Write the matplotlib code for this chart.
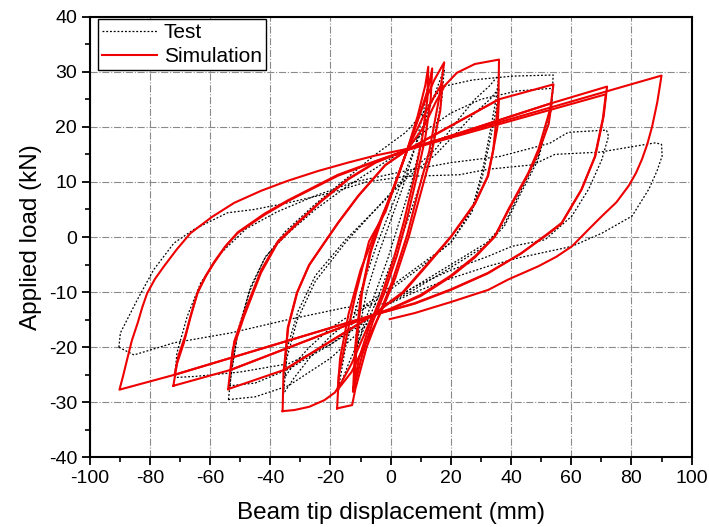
import matplotlib
matplotlib.use('Agg')
import matplotlib.pyplot as plt
from matplotlib.ticker import MultipleLocator

# ---- Simulation loops (beam tip displacement mm, applied load kN) ----
sim12a_x = [-12.5, -11.8, -10.0, -7.0, -3.0, 1.0, 5.5, 9.0, 11.5, 12.5, 12.2, 10.5, 7.5, 4.5, 1.0, -3.0, -7.0, -10.5, -12.5]
sim12a_y = [-28.0, -20.0, -11.0, -3.0, 3.5, 9.0, 15.8, 22.0, 27.5, 30.9, 25.0, 18.0, 10.0, 3.0, -4.0, -10.5, -16.0, -22.0, -28.0]
sim12b_x = [-12.0, -11.3, -9.5, -6.5, -2.5, 1.5, 5.5, 9.5, 12.5, 13.8, 13.3, 11.5, 8.5, 5.5, 2.0, -2.0, -6.0, -9.5, -12.0]
sim12b_y = [-27.0, -19.0, -10.0, -2.5, 4.0, 9.5, 15.8, 22.0, 27.0, 30.6, 25.0, 18.0, 10.5, 3.5, -3.5, -10.0, -15.5, -21.5, -27.0]
sim18a_x = [-17.8, -17.2, -15.0, -11.7, -7.2, -1.7, 1.7, 5.5, 10.5, 14.5, 17.8, 16.1, 12.8, 9.4, 5.5, 0.5, -3.9, -8.0, -11.7, -12.8, -17.8]
sim18a_y = [-31.1, -25.0, -19.0, -10.5, -0.8, 4.6, 10.0, 15.8, 23.5, 28.5, 31.7, 25.2, 15.5, 8.8, 0.4, -8.1, -14.2, -20.0, -27.5, -30.5, -31.1]
sim18b_x = [-17.6, -16.8, -14.0, -10.0, -5.0, 0.0, 5.5, 10.5, 14.5, 17.2, 16.5, 13.5, 10.0, 6.0, 1.5, -3.5, -8.5, -13.0, -17.6]
sim18b_y = [-27.7, -22.0, -14.0, -6.0, 1.0, 7.5, 15.8, 21.5, 25.5, 28.0, 23.0, 15.0, 8.0, 0.0, -7.5, -14.0, -19.5, -24.5, -27.7]
sim36a_x = [-35.9, -35.6, -34.0, -31.0, -27.0, -21.7, -17.2, -10.6, -1.7, 5.5, 11.0, 15.0, 18.0, 22.0, 28.0, 36.0,
            35.8, 34.1, 32.4, 28.0, 20.2, 12.0, 4.0, -6.0, -9.0, -13.0, -16.5, -18.5, -22.0, -27.0, -32.0, -35.9]
sim36a_y = [-31.6, -24.5, -16.3, -10.0, -5.0, -0.8, 2.8, 7.6, 13.1, 15.8, 20.0, 24.5, 27.5, 29.8, 31.4, 32.2,
            25.0, 15.9, 11.1, 6.2, 0.2, -5.0, -10.0, -14.2, -18.0, -23.0, -26.5, -28.2, -29.6, -30.8, -31.4, -31.6]
sim36b_x = [-35.3, -34.2, -31.2, -27.2, -22.0, -17.4, -10.8, -1.9, 5.5, 36.0, 35.5, 34.0, 32.2, 28.0, 20.0, 12.0, 4.0, -6.0, -35.3]
sim36b_y = [-24.1, -16.5, -10.2, -5.2, -1.0, 2.6, 7.4, 13.0, 15.8, 25.0, 20.0, 15.5, 11.0, 6.0, 0.0, -5.2, -10.2, -14.2, -24.1]
sim54a_x = [-54.0, -52.5, -48.7, -43.1, -37.6, -30.9, -23.0, -14.0, -5.0, 5.5, 36.0, 54.1,
            53.0, 49.1, 45.8, 39.1, 34.7, 28.0, 20.0, 10.0, 0.0, -6.0, -35.3, -54.0]
sim54a_y = [-27.6, -20.5, -14.4, -6.5, -1.1, 2.5, 6.5, 10.5, 13.5, 15.8, 25.0, 27.7,
            23.2, 15.9, 11.7, 5.0, 0.2, -3.5, -7.0, -10.5, -13.0, -14.2, -24.1, -27.6]
sim54b_x = [-53.1, -52.0, -48.5, -43.0, -37.5, -31.0, -23.0, -14.0, -5.0, 5.5, 53.5,
            52.5, 49.0, 45.5, 39.0, 34.5, 28.0, 20.0, 10.0, 0.0, -6.0, -53.1]
sim54b_y = [-24.1, -19.0, -13.5, -6.0, -0.8, 2.6, 6.6, 10.6, 13.6, 15.8, 24.3,
            20.5, 15.2, 11.2, 4.7, 0.0, -3.7, -7.2, -10.7, -13.1, -14.2, -24.1]
sim72a_x = [-72.2, -71.0, -68.7, -66.5, -64.2, -61.5, -58.7, -55.0, -50.9, -42.0, -34.2, -17.6, -6.0, 5.5, 53.5, 71.9,
            70.8, 68.0, 63.5, 56.9, 52.4, 43.5, 32.4, 20.0, 8.0, -6.0, -53.1, -72.2]
sim72a_y = [-27.0, -23.0, -19.2, -14.5, -10.2, -7.2, -4.7, -1.8, 0.7, 4.0, 6.5, 11.1, 13.5, 15.8, 24.3, 27.3,
            22.0, 14.7, 8.7, 2.6, 0.7, -2.9, -6.5, -9.5, -12.0, -14.2, -24.1, -27.0]
sim72b_x = [-71.8, -70.5, -68.3, -66.2, -64.0, -61.3, -58.5, -54.8, -50.7, -42.0, -34.0, -17.5, -6.0, 5.5, 71.5,
            70.5, 67.8, 63.3, 56.7, 52.2, 43.3, 32.3, 20.0, 8.0, -6.0, -71.8]
sim72b_y = [-25.0, -21.5, -18.0, -13.8, -9.8, -6.9, -4.4, -1.6, 0.9, 4.2, 6.7, 11.3, 13.6, 15.8, 25.9,
            21.5, 14.5, 8.5, 2.4, 0.5, -3.0, -6.6, -9.6, -12.1, -14.2, -25.0]
sim90_x = [-6.0, -71.8, -90.1, -88.8, -87.6, -86.0, -84.0, -82.5, -80.9, -78.3, -75.3, -71.0, -66.5, -59.5, -52.0,
           -43.0, -34.2, -24.0, -14.2, -5.0, 4.7, 90.0,
           88.6, 86.9, 85.3, 83.5, 81.5, 79.1, 75.0, 70.2, 65.8, 60.2, 55.0, 49.1, 39.1, 32.4, 20.0, 8.0, -0.3]
sim90_y = [-14.2, -25.0, -27.7, -25.0, -22.3, -18.8, -15.5, -12.7, -10.2, -7.6, -5.3, -2.2, 0.7, 3.6, 6.2,
           8.4, 10.2, 12.0, 13.5, 14.8, 15.9, 29.3,
           24.5, 20.1, 16.9, 14.1, 11.6, 9.3, 6.3, 3.8, 1.4, -1.7, -3.6, -5.3, -7.7, -9.6, -11.8, -13.8, -14.9]

# ---- Test loops ----
test12_x = [-12.0, -10.5, -8.0, -4.0, 0.0, 4.0, 8.0, 11.0, 12.5, 12.0, 10.0, 7.0, 3.0, -1.0, -5.0, -9.0, -11.5, -12.0]
test12_y = [-24.0, -17.0, -10.0, -3.0, 3.0, 9.0, 16.0, 23.0, 28.0, 24.0, 17.0, 10.0, 3.0, -4.0, -10.0, -16.0, -21.0, -24.0]
test18_x = [-17.5, -15.0, -10.0, -5.0, 0.0, 5.0, 10.0, 14.0, 17.8, 17.0, 14.0, 10.0, 5.0, 0.0, -5.0, -10.0, -14.0, -17.5]
test18_y = [-28.0, -20.0, -10.0, -2.0, 5.0, 12.0, 19.0, 25.0, 30.5, 25.0, 17.0, 10.0, 2.0, -5.0, -12.0, -18.0, -23.0, -28.0]
test36a_x = [-35.6, -34.5, -31.0, -25.0, -15.0, -5.0, 5.0, 15.0, 22.0, 28.0, 33.0, 36.0,
             35.0, 33.0, 30.5, 27.0, 20.0, 10.0, 0.0, -10.0, -20.0, -27.0, -32.0, -35.6]
test36a_y = [-28.4, -22.0, -15.0, -8.0, -1.0, 5.0, 11.0, 16.0, 21.0, 25.0, 27.5, 29.5,
             25.0, 19.0, 12.0, 5.0, -1.0, -5.5, -9.5, -13.5, -18.0, -22.0, -25.5, -28.4]
test36b_x = [-35.3, -34.3, -30.8, -25.0, -15.0, -5.0, 5.0, 15.0, 22.0, 28.0, 33.0, 36.0,
             35.0, 33.0, 30.5, 27.0, 20.0, 10.0, 0.0, -10.0, -20.0, -27.0, -32.0, -35.3]
test36b_y = [-25.5, -20.0, -13.5, -7.0, -0.5, 5.0, 10.5, 15.0, 19.0, 22.5, 25.0, 27.0,
             23.0, 17.5, 11.0, 4.5, -1.0, -5.0, -9.0, -13.0, -16.5, -20.0, -23.0, -25.5]
test54a_x = [-53.9, -53.0, -51.0, -47.0, -42.0, -35.0, -25.0, -15.0, -5.0, 5.0, 10.0, 17.2, 27.2, 40.5, 54.0,
             53.5, 49.1, 43.5, 38.0, 32.0, 20.0, 8.0, -2.0, -10.0, -20.0, -34.0, -45.0, -53.9]
test54a_y = [-29.5, -25.0, -18.0, -10.0, -4.0, 1.0, 6.0, 10.5, 15.0, 19.0, 22.0, 27.3, 28.5, 29.2, 29.4,
             24.4, 14.7, 8.7, 2.6, -1.0, -5.0, -9.0, -12.5, -17.0, -22.0, -27.0, -29.0, -29.5]
test54b_x = [-53.5, -52.5, -50.5, -46.5, -41.5, -34.5, -25.0, -15.0, -5.0, 5.0, 12.0, 20.0, 30.0, 42.0, 54.0,
             53.3, 49.0, 43.3, 37.8, 31.8, 20.0, 8.0, -2.0, -10.0, -20.0, -34.0, -45.0, -53.5]
test54b_y = [-27.0, -23.0, -16.5, -9.0, -3.5, 0.5, 5.0, 9.0, 12.5, 16.0, 19.5, 22.5, 25.0, 26.5, 27.0,
             23.0, 14.0, 8.0, 2.0, -1.5, -5.5, -9.5, -12.5, -15.5, -19.5, -24.0, -26.5, -27.0]
test72_x = [-71.8, -71.0, -67.6, -63.1, -56.4, -48.0, -38.0, -25.0, -12.0, 5.0, 20.0, 36.1, 52.8, 59.0, 71.7,
            72.4, 70.2, 65.8, 60.2, 51.3, 40.2, 32.4, 20.0, 8.0, 0.0, -10.0, -20.0, -34.0, -50.0, -65.0, -71.8]
test72_y = [-25.5, -21.0, -14.4, -8.3, -2.9, 1.5, 4.5, 7.5, 10.0, 12.0, 13.5, 14.6, 17.0, 19.0, 19.4,
            18.3, 14.1, 8.7, 3.8, -0.5, -1.7, -3.5, -6.0, -9.0, -11.5, -16.0, -19.5, -23.0, -24.5, -25.3, -25.5]
test90_x = [-90.3, -89.8, -84.2, -78.7, -72.0, -65.3, -54.2, -45.3, -34.2, -20.0, -8.0, 5.0, 22.8, 32.4, 47.2,
            54.6, 69.4, 88.0, 90.0, 90.2, 88.5, 85.8, 80.2, 70.2, 60.2, 42.4, 32.4, 20.0, 8.0, 0.0, -15.0,
            -34.2, -53.1, -72.0, -85.3, -90.3]
test90_y = [-20.0, -17.4, -11.4, -5.9, -1.1, 1.4, 4.4, 5.0, 6.2, 8.0, 10.0, 11.0, 11.3, 12.3, 13.1,
            15.0, 15.4, 17.1, 16.8, 14.7, 12.0, 8.7, 3.8, 0.7, -1.7, -3.8, -5.3, -7.5, -10.0, -12.0, -12.8,
            -15.0, -17.4, -19.2, -21.4, -20.0]

test_loops = [(test12_x, test12_y), (test18_x, test18_y), (test36a_x, test36a_y), (test36b_x, test36b_y),
              (test54a_x, test54a_y), (test54b_x, test54b_y), (test72_x, test72_y), (test90_x, test90_y)]
sim_loops = [(sim12a_x, sim12a_y), (sim12b_x, sim12b_y), (sim18a_x, sim18a_y), (sim18b_x, sim18b_y),
             (sim36a_x, sim36a_y), (sim36b_x, sim36b_y), (sim54a_x, sim54a_y), (sim54b_x, sim54b_y),
             (sim72a_x, sim72a_y), (sim72b_x, sim72b_y), (sim90_x, sim90_y)]

plt.rcParams['font.family'] = ['Liberation Sans', 'DejaVu Sans']
plt.rcParams['axes.unicode_minus'] = False

fig = plt.figure(figsize=(7.09, 5.27), dpi=100)
ax = fig.add_axes([0.1265, 0.132, 0.849, 0.8365])

for i, (x, y) in enumerate(test_loops):
    ax.plot(x, y, color='black', lw=0.9, ls=(0, (1.5, 1.5)), label='Test' if i == 0 else None, zorder=3)
for i, (x, y) in enumerate(sim_loops):
    ax.plot(x, y, color='#ee0000', lw=1.5, label='Simulation' if i == 0 else None, zorder=4)

ax.set_xlim(-100, 100)
ax.set_ylim(-40, 40)
ax.xaxis.set_major_locator(MultipleLocator(20))
ax.xaxis.set_minor_locator(MultipleLocator(10))
ax.yaxis.set_major_locator(MultipleLocator(10))
ax.yaxis.set_minor_locator(MultipleLocator(5))
ax.tick_params(which='major', direction='out', length=6, width=1.3, labelsize=14, pad=3)
ax.tick_params(which='minor', direction='out', length=3.5, width=1.2)
ax.tick_params(top=False, right=False, which='both')
ax.grid(True, which='major', color='#8a8a8a', lw=0.8, ls='-.')
for s in ax.spines.values():
    s.set_linewidth(1.5)
    s.set_color('black')

ax.set_xlabel('Beam tip displacement (mm)', fontsize=17.5, labelpad=11)
ax.set_ylabel('Applied load (kN)', fontsize=17.5, labelpad=5)

leg = ax.legend(loc='upper left', bbox_to_anchor=(0.01, 1.0), borderaxespad=0.1, fontsize=15,
                fancybox=False, framealpha=1, edgecolor='black', handlelength=2.6,
                handletextpad=0.35, borderpad=0.22, labelspacing=0.22)
leg.get_frame().set_linewidth(1.0)

fig.savefig('out.png', dpi=100)
